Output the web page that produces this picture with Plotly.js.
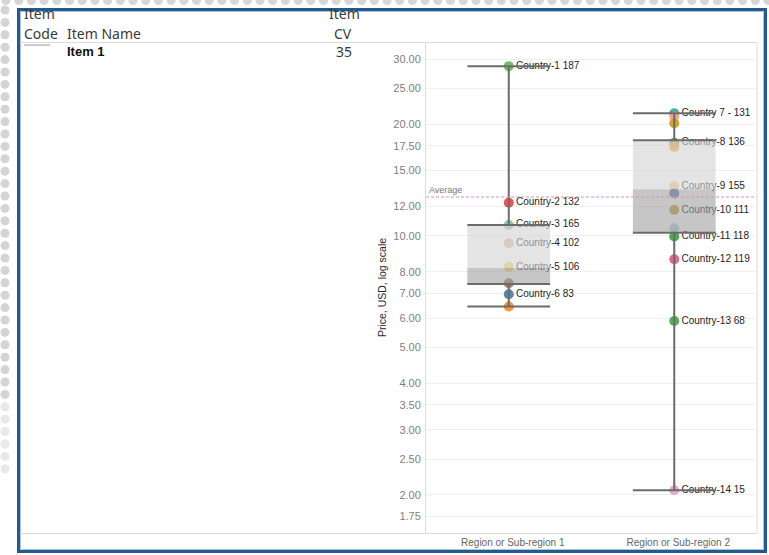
<!DOCTYPE html>
<html>
<head>
<meta charset="utf-8">
<script src="https://cdn.plot.ly/plotly-3.0.1.min.js"></script>
<style>
  html, body { margin: 0; padding: 0; background: #ffffff; }
  #chart { width: 769px; height: 555px; }
</style>
</head>
<body>
<div id="chart"></div>
<script>
// ---- Data ----
const regions = ['Region or Sub-region 1', 'Region or Sub-region 2'];

// One entry per country mark: region index, price (USD), label name, label number
const countryRegion = [0, 0, 0, 0, 0, 0, 0, 0,
                       1, 1, 1, 1, 1, 1, 1, 1, 1, 1, 1, 1, 1, 1];
const countryPrice  = [28.7, 12.29, 10.70, 9.55, 8.24, 7.45, 6.96, 6.45,
                       21.41, 20.96, 20.12, 17.84, 17.40, 13.63, 13.02, 11.74, 10.48, 9.96, 8.65, 5.89, 2.06];
const countryName   = ['Country-1', 'Country-2', 'Country-3', 'Country-4', 'Country-5', '', 'Country-6', '',
                       'Country 7 -', '', '', 'Country-8', '', 'Country-9', '', 'Country-10', '', 'Country-11', 'Country-12', 'Country-13', 'Country-14'];
const countryCount  = [187, 132, 165, 102, 106, null, 83, null,
                       131, null, null, 136, null, 155, null, 111, null, 118, 119, 68, 15];

// Box statistics per region (USD)
const boxUpper  = [28.7, 21.41];
const boxQ3     = [10.70, 18.1];
const boxMedian = [8.19, 13.35];
const boxQ1     = [7.42, 10.2];
const boxLower  = [6.45, 2.06];

const averagePrice = 12.73;

const yTickValues = [1.75, 2, 2.5, 3, 3.5, 4, 5, 6, 7, 8, 10, 12, 15, 17.5, 20, 25, 30];

// Table header / row
const headerCode = ['Item', 'Code'];
const headerName = 'Item Name';
const headerCV = ['Item', 'CV'];
const itemName = 'Item 1';
const itemCV = 35;

// ---- Styles ----
const markColors = ['#66bb5c', '#e8474e', '#86bcb6', '#d7b5a6', '#f1ce63', '#9d7660', '#4e79a7', '#f28e2b',
                    '#3fa393', '#ff9d9a', '#c8a020', '#59a14f', '#f28e2b', '#ffbe7d', '#4e79a7', '#b6992d', '#a0cbe8', '#3fa344', '#e05a8c', '#44a844', '#e6a3cf'];
const boxHalf = 0.25;
const lineColor = '#6b6b6b';

// Plot area in pixels
const L = 426, R = 757, T = 42, B = 533;
const px = x => (x - L) / (R - L);
const py = y => (B - y) / (B - T);

// ---- Traces ----
const traces = [];

// Country marks with labels
traces.push({
  type: 'scatter',
  mode: 'markers+text',
  x: countryRegion,
  y: countryPrice,
  text: countryName.map((n, i) => n ? n + ' ' + countryCount[i] : ''),
  textposition: 'middle right',
  textfont: { family: 'Arial, Liberation Sans, sans-serif', size: 10, color: '#1e1e1e' },
  marker: { size: 10, color: markColors, opacity: 0.92, line: { width: 0 } },
  cliponaxis: false,
  hoverinfo: 'skip',
  showlegend: false
});

// Box shading: lower half (Q1 to median) darker, upper half (median to Q3) lighter
regions.forEach((r, i) => {
  traces.push({
    type: 'scatter', mode: 'lines', fill: 'toself',
    x: [i - boxHalf, i + boxHalf, i + boxHalf, i - boxHalf, i - boxHalf],
    y: [boxMedian[i], boxMedian[i], boxQ3[i], boxQ3[i], boxMedian[i]],
    fillcolor: 'rgba(212,212,212,0.62)', line: { width: 0 },
    hoverinfo: 'skip', showlegend: false
  });
  traces.push({
    type: 'scatter', mode: 'lines', fill: 'toself',
    x: [i - boxHalf, i + boxHalf, i + boxHalf, i - boxHalf, i - boxHalf],
    y: [boxQ1[i], boxQ1[i], boxMedian[i], boxMedian[i], boxQ1[i]],
    fillcolor: 'rgba(160,160,160,0.6)', line: { width: 0 },
    hoverinfo: 'skip', showlegend: false
  });
});

// Whiskers, caps and hinge lines
const lx = [], ly = [];
regions.forEach((r, i) => {
  const a = i - boxHalf, b = i + boxHalf;
  lx.push(a, b, null); ly.push(boxUpper[i], boxUpper[i], null);
  lx.push(i, i, null);  ly.push(boxUpper[i], boxQ3[i], null);
  lx.push(a, b, null); ly.push(boxQ3[i], boxQ3[i], null);
  lx.push(a, b, null); ly.push(boxQ1[i], boxQ1[i], null);
  lx.push(i, i, null);  ly.push(boxQ1[i], boxLower[i], null);
  lx.push(a, b, null); ly.push(boxLower[i], boxLower[i], null);
});
traces.push({
  type: 'scatter', mode: 'lines', x: lx, y: ly,
  line: { color: lineColor, width: 2 },
  connectgaps: false, hoverinfo: 'skip', showlegend: false
});

// Average reference line
traces.push({
  type: 'scatter', mode: 'lines',
  x: [-0.5, 1.5], y: [averagePrice, averagePrice],
  line: { color: '#e38bb4', width: 1, dash: '3px,2px' },
  hoverinfo: 'skip', showlegend: false
});

// ---- Decorations ----
const shapes = [];
// dotted page edge
for (let cx = 6; cx < 769; cx += 12.7) {
  shapes.push({ type: 'circle', xref: 'paper', yref: 'paper', xsizemode: 'pixel', ysizemode: 'pixel',
    xanchor: px(cx), yanchor: py(0.5), x0: -4.5, x1: 4.5, y0: -4.5, y1: 4.5,
    fillcolor: '#d6d6d6', line: { width: 0 }, layer: 'below' });
}
for (let cy = 10; cy < 475; cy += 12.4) {
  shapes.push({ type: 'circle', xref: 'paper', yref: 'paper', xsizemode: 'pixel', ysizemode: 'pixel',
    xanchor: px(5), yanchor: py(cy), x0: -4.5, x1: 4.5, y0: -4.5, y1: 4.5,
    fillcolor: cy < 400 ? '#d4d4d4' : '#e9e9e9', line: { width: 0 }, layer: 'below' });
}
// frame
shapes.push({ type: 'rect', xref: 'paper', yref: 'paper',
  x0: px(18.5), x1: px(765.5), y0: py(9.5), y1: py(551.5),
  fillcolor: '#ffffff', line: { color: '#245b8c', width: 3 }, layer: 'below' });
shapes.push({ type: 'rect', xref: 'paper', yref: 'paper',
  x0: px(20.5), x1: px(763.5), y0: py(11.5), y1: py(549.5),
  line: { color: '#aac4dc', width: 1 }, layer: 'below' });
// table rules
shapes.push({ type: 'line', xref: 'paper', yref: 'paper', x0: px(20), x1: px(757), y0: py(42.5), y1: py(42.5),
  line: { color: '#dcdcdc', width: 1 } });
shapes.push({ type: 'line', xref: 'paper', yref: 'paper', x0: px(20), x1: px(757), y0: py(533.5), y1: py(533.5),
  line: { color: '#dcdcdc', width: 1 } });
shapes.push({ type: 'line', xref: 'paper', yref: 'paper', x0: px(757), x1: px(757), y0: py(42.5), y1: py(533.5),
  line: { color: '#dcdcdc', width: 1 } });
// item code placeholder
shapes.push({ type: 'line', xref: 'paper', yref: 'paper', x0: px(24), x1: px(50), y0: py(45), y1: py(45),
  line: { color: '#b8b8b8', width: 1.5 } });

const hdrFont = { family: 'Noto Sans, sans-serif', size: 14, color: '#3a3a3a' };
const annotations = [
  { text: headerCode[0], x: px(22), y: py(14), xanchor: 'left', yanchor: 'middle', font: hdrFont },
  { text: headerCode[1], x: px(22), y: py(34), xanchor: 'left', yanchor: 'middle', font: hdrFont },
  { text: headerName, x: px(65), y: py(34), xanchor: 'left', yanchor: 'middle', font: hdrFont },
  { text: headerCV[0], x: px(344), y: py(14), xanchor: 'center', yanchor: 'middle', font: hdrFont },
  { text: headerCV[1], x: px(343), y: py(34), xanchor: 'center', yanchor: 'middle', font: hdrFont },
  { text: '<b>' + itemName + '</b>', x: px(65), y: py(52), xanchor: 'left', yanchor: 'middle',
    font: { family: 'Arial, Liberation Sans, sans-serif', size: 13, color: '#111' } },
  { text: String(itemCV), x: px(334), y: py(52), xanchor: 'left', yanchor: 'middle', font: hdrFont },
  { text: 'Average', xref: 'paper', x: 0, xanchor: 'left', xshift: 1, yref: 'y', y: Math.log10(averagePrice),
    yanchor: 'bottom', yshift: 0, font: { family: 'Arial, Liberation Sans, sans-serif', size: 9, color: '#777' } }
].map(a => Object.assign({ xref: 'paper', yref: 'paper', showarrow: false }, a));

const layout = {
  width: 769, height: 555,
  margin: { l: L, r: 769 - R, t: T, b: 555 - B, pad: 0 },
  paper_bgcolor: '#ffffff',
  plot_bgcolor: 'rgba(0,0,0,0)',
  showlegend: false,
  xaxis: {
    range: [-0.5, 1.5], tickvals: [0, 1], ticktext: regions,
    tickfont: { family: 'Arial, Liberation Sans, sans-serif', size: 10, color: '#666' },
    showgrid: false, zeroline: false, showline: false, ticks: '', ticklabelshift: 4, ticklabelstandoff: 2,
    fixedrange: true
  },
  yaxis: {
    type: 'log', range: [0.1984, 1.523],
    tickvals: yTickValues, ticktext: yTickValues.map(v => v.toFixed(2)),
    tickfont: { family: 'Arial, Liberation Sans, sans-serif', size: 11, color: '#808080' },
    gridcolor: '#f0f0f0', zeroline: false, showline: true, linecolor: '#dcdcdc', linewidth: 1,
    ticks: '', ticklabelstandoff: 2,
    title: { text: 'Price, USD, log scale', standoff: 4,
      font: { family: 'Arial, Liberation Sans, sans-serif', size: 10.5, color: '#2a2a2a' } },
    automargin: false, fixedrange: true
  },
  shapes: shapes,
  annotations: annotations
};

Plotly.newPlot('chart', traces, layout, { displayModeBar: false, staticPlot: true });
</script>
</body>
</html>
